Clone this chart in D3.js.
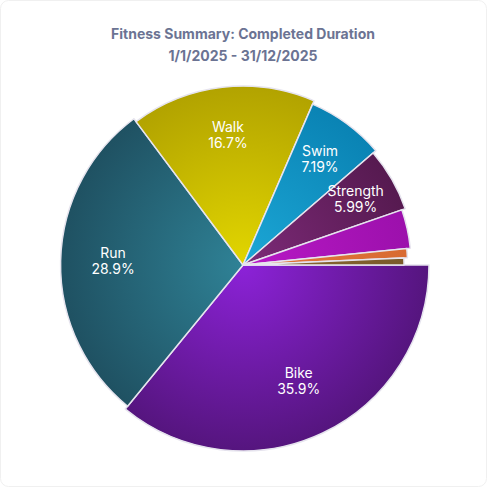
<!DOCTYPE html>
<html>
<head>
<meta charset="utf-8">
<script src="https://cdn.jsdelivr.net/npm/d3@7"></script>
<style>
  html, body { margin: 0; padding: 0; background: #fff; }
  svg { display: block; font-family: Inter, 'Noto Sans', sans-serif; }
</style>
</head>
<body>
<div id="chart"></div>
<script>
// Activity share of completed duration (percent)
const activities = ['Bike', 'Run', 'Walk', 'Swim', 'Strength', 'Other', 'Yoga', 'Hike'];
const shares = [35.9, 28.9, 16.7, 7.19, 5.99, 3.72, 0.9, 0.7];
const labelText = ['35.9%', '28.9%', '16.7%', '7.19%', '5.99%', '', '', ''];
const innerColors = ['#8c22d8', '#2f8296', '#e2d600', '#1ca7d6', '#7d2a78', '#b818c6', '#e2773c', '#8c6a34'];
const outerColors = ['#55157e', '#1f5162', '#b2a300', '#0a83b4', '#561a50', '#9c10ac', '#d86a32', '#7a5a2a'];
const titleLines = ['Fitness Summary: Completed Duration', '1/1/2025 - 31/12/2025'];

const width = 487, height = 487;
const cx = 243, cy = 265;

const svg = d3.select('#chart').append('svg')
    .attr('width', width).attr('height', height);

svg.append('rect')
    .attr('x', 0.5).attr('y', 0.5)
    .attr('width', width - 1).attr('height', height - 1)
    .attr('rx', 8).attr('fill', '#fff').attr('stroke', '#f0f0f0');

svg.selectAll('text.title').data(titleLines).join('text')
    .attr('class', 'title')
    .attr('x', cx).attr('y', (d, i) => 39 + i * 22)
    .attr('text-anchor', 'middle')
    .attr('font-size', 14).attr('font-weight', 700)
    .attr('fill', '#6b7393')
    .text(d => d);

const data = activities.map((name, i) => ({ name, value: shares[i], label: labelText[i], i }));

const pie = d3.pie()
    .value(d => d.value)
    .sort(null)
    .startAngle(Math.PI / 2)
    .endAngle(Math.PI / 2 + 2 * Math.PI);

// each following slice is drawn a little shorter than the one before
const radius = d3.scaleLinear().domain([0, activities.length - 1]).range([186, 161]);

const defs = svg.append('defs');
data.forEach((d, i) => {
    const grad = defs.append('radialGradient')
        .attr('id', `grad-${i}`)
        .attr('gradientUnits', 'userSpaceOnUse')
        .attr('cx', 0).attr('cy', 0).attr('r', radius(i));
    grad.append('stop').attr('offset', '0%').attr('stop-color', innerColors[i]);
    grad.append('stop').attr('offset', '100%').attr('stop-color', outerColors[i]);
});

const g = svg.append('g').attr('transform', `translate(${cx},${cy})`);
const arcs = pie(data);

g.selectAll('path.slice').data(arcs).join('path')
    .attr('class', 'slice')
    .attr('d', d => d3.arc().innerRadius(0).outerRadius(radius(d.data.i))(d))
    .attr('fill', d => `url(#grad-${d.data.i})`)
    .attr('stroke', '#e6e4ee')
    .attr('stroke-width', 1.5)
    .attr('stroke-linejoin', 'round');

const labelArc = d3.arc().innerRadius(130).outerRadius(130);
const labelled = arcs.filter(d => d.data.label);

const lbl = g.selectAll('g.lbl').data(labelled).join('g')
    .attr('class', 'lbl')
    .attr('transform', d => `translate(${labelArc.centroid(d)})`)
    .attr('text-anchor', 'middle')
    .attr('font-size', 14)
    .attr('fill', '#fff');

lbl.append('text').attr('y', -4).text(d => d.data.name);
lbl.append('text').attr('y', 12).text(d => d.data.label);
</script>
</body>
</html>
